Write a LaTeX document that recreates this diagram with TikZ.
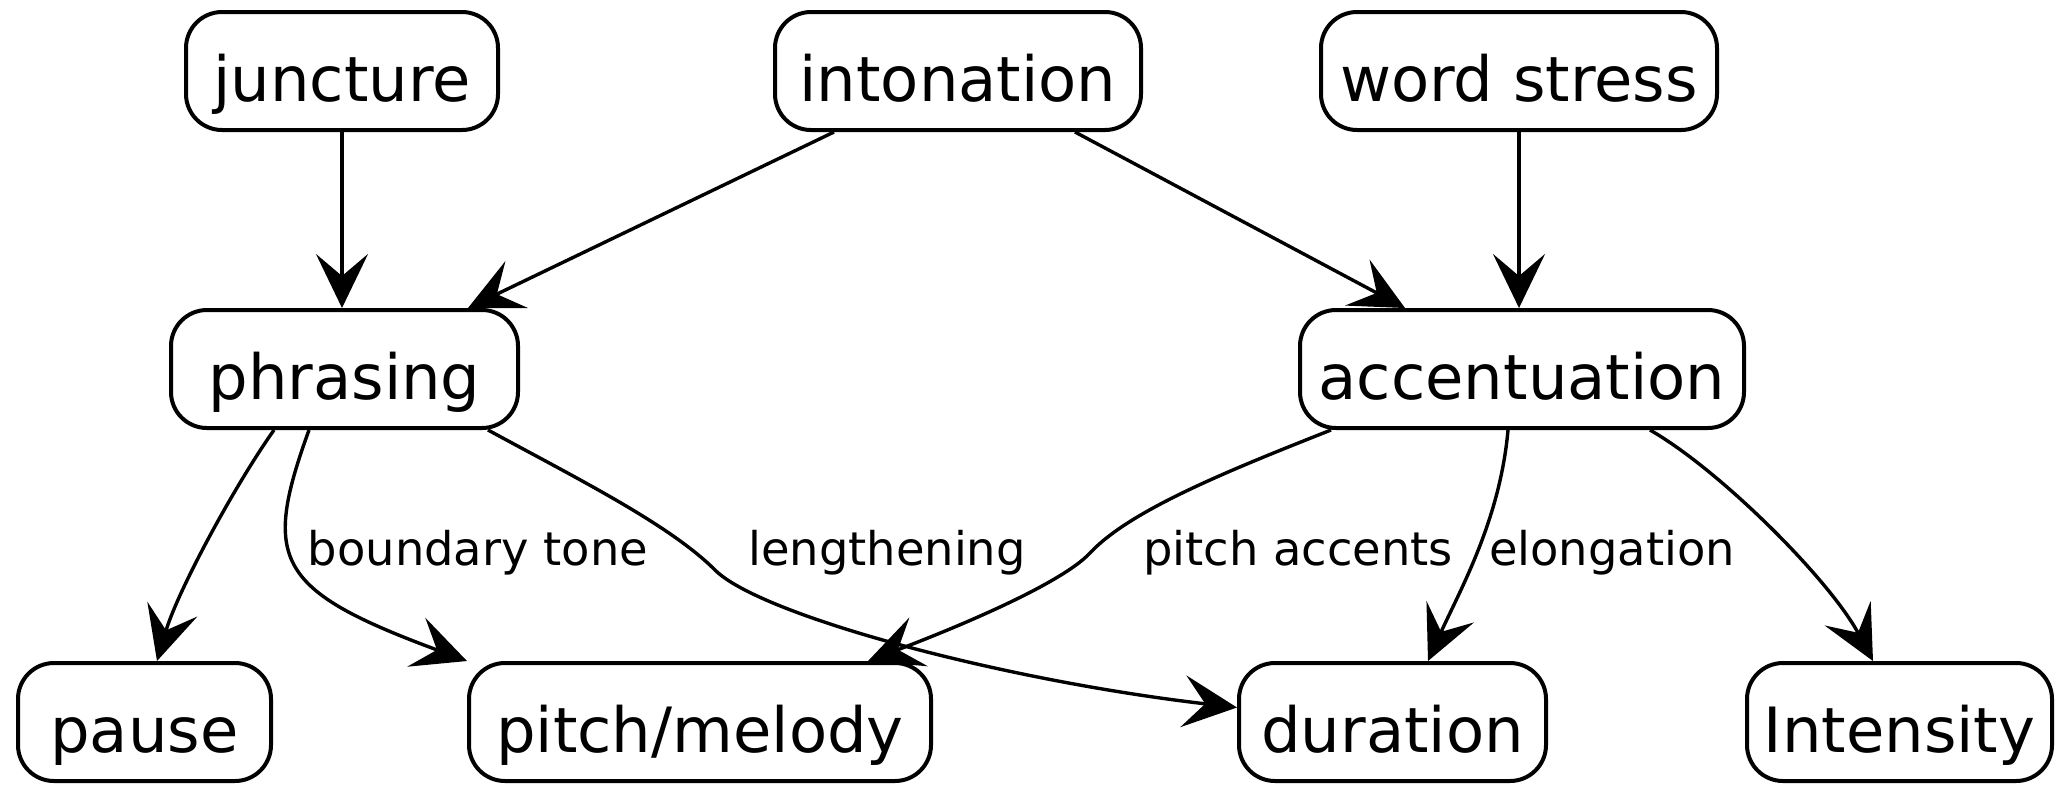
\documentclass[tikz,border=0pt]{standalone}
\usepackage{fontspec}
\setmainfont{DejaVu Sans}
\usetikzlibrary{arrows.meta,calc}
% box text sits low in its box: lower it without changing the box size
\newcommand{\lowtext}[1]{\raisebox{-7.5pt}[0pt][0pt]{#1}}

\begin{document}
\begin{tikzpicture}[x=0.25pt,y=-0.25pt,
  term/.style={draw=black, line width=1pt, rounded corners=9pt, fill=white,
    minimum height=29.5pt, inner sep=0pt, font=\fontsize{15.6}{18}\selectfont},
  lbl/.style={anchor=base, inner sep=0pt, font=\fontsize{11.6}{14}\selectfont},
  arr/.style={draw=black, line width=0.85pt,
    -{Stealth[length=13.5pt,width=13pt,inset=5.5pt]}},
]
\useasboundingbox (0,0) rectangle (2056,784);

% top row
\node[term, minimum width=78pt]   (juncture)   at (342,71)  {\lowtext{juncture}};
\node[term, minimum width=91.5pt] (intonation) at (958,71)  {\lowtext{intonation}};
\node[term, minimum width=99pt]   (wordstress) at (1519,71) {\lowtext{word stress}};

% middle row
\node[term, minimum width=86.75pt] (phrasing)     at (344.5,369) {\lowtext{phrasing}};
\node[term, minimum width=111pt]   (accentuation) at (1522,369)  {\lowtext{accentuation}};

% bottom row
\node[term, minimum width=63.25pt] (pause)     at (144.5,722)  {\lowtext{pause}};
\node[term, minimum width=115.5pt] (pitch)     at (700,722)    {\lowtext{pitch/melody}};
\node[term, minimum width=76.75pt] (duration)  at (1392.5,722) {\lowtext{duration}};
\node[term, minimum width=76.25pt] (intensity) at (1899.5,722) {\lowtext{Intensity}};

% edge labels
\node[lbl] (tBoundary) at (478,565)  {boundary tone};
\node[lbl] (tLength)   at (887,565)  {lengthening};
\node[lbl] (tAccents)  at (1298,565) {pitch accents};
\node[lbl] (tElong)    at (1612,565) {elongation};

% upper connectors
\draw[arr] (juncture.south) -- (juncture.south |- phrasing.north);
\draw[arr] ($(intonation.south)+(-124,0)$) -- ($(phrasing.north)+(123.5,0)$);
\draw[arr] ($(intonation.south)+(117,0)$) -- ($(accentuation.north)+(-117,0)$);
\draw[arr] (wordstress.south) -- (wordstress.south |- accentuation.north);

% from phrasing
\draw[arr] ($(phrasing.south)+(-70.5,0)$) .. controls (235,485) and (178,590) .. ($(pause.north)+(12.5,0)$);
\draw[arr] ($(phrasing.south)+(-35.5,0)$) .. controls (262,560) and (275,590) .. (pitch.north west);
\draw[arr] ($(phrasing.south)+(143.5,0)$) .. controls (580,480) and (670,525) .. (715,570)
  .. controls (760,615) and (1000,680) .. ($(duration.west)+(0,-14.5)$);

% from accentuation
\draw[arr] ($(accentuation.south)+(-191,0)$) .. controls (1230,470) and (1130,510) .. (1090,553)
  .. controls (1060,585) and (950,630) .. ($(pitch.north)+(168,0)$);
\draw[arr] ($(accentuation.south)+(-14,0)$) .. controls (1500,520) and (1460,590) .. ($(duration.north)+(35.5,0)$);
\draw[arr] ($(accentuation.south)+(128,0)$) .. controls (1720,470) and (1830,580) .. ($(intensity.north)+(-26.5,0)$);
\end{tikzpicture}
\end{document}
